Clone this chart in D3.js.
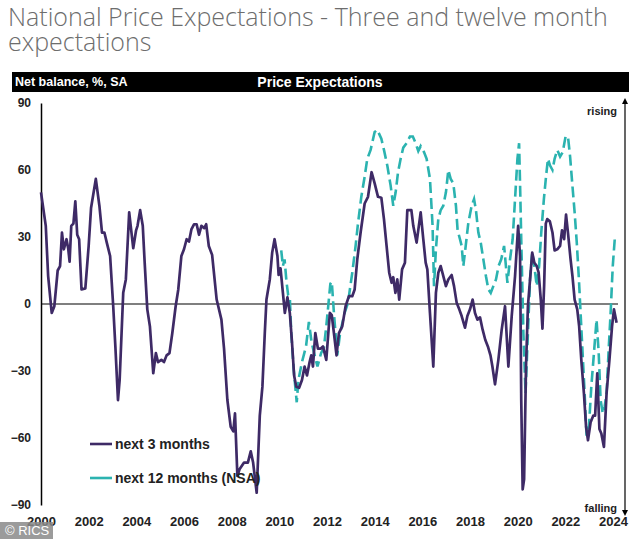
<!DOCTYPE html>
<html><head><meta charset="utf-8">
<script src="https://cdn.jsdelivr.net/npm/d3@7"></script>
<style>
html,body{margin:0;padding:0;background:#fff;}
svg{display:block;}
.narrow{font-family:"Liberation Sans Narrow","Arial Narrow","Liberation Sans",Arial,sans-serif;font-weight:bold;}
</style></head>
<body>
<svg id="chart" width="634" height="539"></svg>
<script>
// ---- data ----
const yearTicks = [2000,2002,2004,2006,2008,2010,2012,2014,2016,2018,2020,2022,2024];
const valueTicks = [90,60,30,0,-30,-60,-90];

const threeMonthT = [2000.0,2000.2,2000.3,2000.45,2000.56,2000.7,2000.8,2000.88,2000.96,2001.07,2001.14,2001.2,2001.27,2001.36,2001.44,2001.52,2001.6,2001.7,2001.86,2002.0,2002.1,2002.3,2002.45,2002.56,2002.66,2002.76,2002.9,2003.03,2003.12,2003.23,2003.3,2003.45,2003.56,2003.7,2003.87,2003.99,2004.05,2004.16,2004.27,2004.35,2004.46,2004.57,2004.71,2004.82,2004.91,2005.05,2005.16,2005.27,2005.39,2005.51,2005.65,2005.76,2005.89,2006.0,2006.11,2006.21,2006.31,2006.42,2006.53,2006.63,2006.73,2006.85,2006.93,2007.04,2007.18,2007.37,2007.57,2007.68,2007.82,2007.96,2008.07,2008.14,2008.24,2008.33,2008.52,2008.68,2008.8,2008.9,2009.05,2009.18,2009.29,2009.39,2009.46,2009.6,2009.7,2009.8,2009.92,2009.97,2010.05,2010.15,2010.23,2010.34,2010.44,2010.53,2010.62,2010.71,2010.83,2010.95,2011.06,2011.16,2011.27,2011.34,2011.41,2011.51,2011.62,2011.73,2011.83,2011.97,2012.12,2012.2,2012.29,2012.4,2012.5,2012.64,2012.78,2012.92,2013.06,2013.16,2013.27,2013.41,2013.58,2013.72,2013.87,2014.0,2014.14,2014.28,2014.39,2014.5,2014.61,2014.71,2014.78,2014.87,2014.95,2015.03,2015.15,2015.27,2015.37,2015.54,2015.62,2015.76,2015.93,2016.04,2016.14,2016.21,2016.32,2016.46,2016.57,2016.67,2016.77,2016.88,2016.99,2017.09,2017.23,2017.33,2017.44,2017.55,2017.65,2017.79,2017.89,2018.0,2018.11,2018.21,2018.31,2018.42,2018.53,2018.64,2018.75,2018.86,2018.94,2019.05,2019.19,2019.33,2019.47,2019.61,2019.75,2019.89,2020.02,2020.1,2020.15,2020.21,2020.27,2020.35,2020.43,2020.52,2020.61,2020.7,2020.8,2020.88,2020.97,2021.04,2021.11,2021.18,2021.24,2021.35,2021.46,2021.55,2021.66,2021.78,2021.86,2021.95,2022.03,2022.11,2022.22,2022.3,2022.39,2022.5,2022.58,2022.67,2022.78,2022.87,2022.95,2023.06,2023.17,2023.25,2023.34,2023.43,2023.51,2023.62,2023.73,2023.85,2023.96,2024.04,2024.15];
const threeMonthV = [50,35,12.5,-4,-1,15,17,32,24.5,29,25,19,35,36,46,31,29,6.5,7,26,43,56,44,32,32,27.5,21.5,-1,-19,-43,-34,5,11,41,25,33,35,42,35,18.5,-2.4,-10,-31,-22,-26,-25,-26,-23,-22,-13,-1,6.5,21.5,24.5,29,28,33.4,35.7,35.7,31,35,34,35.7,26,22,2,-7,-20,-43,-55,-57,-49,-77,-74,-71,-71,-66,-71,-84.5,-50,-37,-13,2,11,23,29,21.5,13,16,5,-4,3,-4,-17,-32,-37,-37.5,-34,-28,-32,-26,-23,-28,-13,-20,-20,-19,-25,-4,-5,-13,-23,-13,-10,-1,3.5,3.5,6.5,20,32,45,48,59,54,48,47.6,38,26,14,9.5,12,5,11,2,15.5,18.5,42,42,35,27.5,41,29,18.5,15.5,-4,-28,5,14,17,12.5,8,11,13,8,0.6,-2.4,-5.4,-10.6,-5.4,-2.4,2,-4,-7,-6,-11.5,-16,-19,-23,-28,-36,-25,-11.5,-1,-28,-5.4,12.5,35,21.5,-43,-83,-78.5,-28,-1,11,23,18.5,17,14,2,-11,8,36,38,37,32,24,24.5,26,33,29,40,32,20,12.4,2,-2.4,-10,-25,-40,-55,-61,-53,-50,-50,-31,-56,-58,-64,-40,-25,-10,-2.4,-8.4];

const twelveMonthT = [2010.08,2010.15,2010.22,2010.3,2010.37,2010.44,2010.5,2010.6,2010.73,2010.8,2010.95,2011.12,2011.24,2011.35,2011.46,2011.6,2011.75,2011.87,2011.97,2012.06,2012.14,2012.2,2012.29,2012.43,2012.55,2012.74,2012.88,2013.06,2013.2,2013.3,2013.44,2013.58,2013.69,2013.83,2014.0,2014.11,2014.28,2014.39,2014.53,2014.67,2014.78,2014.88,2014.98,2015.09,2015.2,2015.34,2015.48,2015.6,2015.72,2015.83,2015.93,2016.07,2016.18,2016.32,2016.43,2016.49,2016.57,2016.67,2016.77,2016.88,2016.99,2017.09,2017.19,2017.3,2017.41,2017.48,2017.58,2017.65,2017.72,2017.82,2017.93,2018.07,2018.17,2018.25,2018.35,2018.45,2018.56,2018.67,2018.77,2018.87,2018.98,2019.09,2019.2,2019.31,2019.43,2019.57,2019.68,2019.79,2019.89,2019.99,2020.06,2020.1,2020.15,2020.24,2020.33,2020.43,2020.52,2020.61,2020.7,2020.8,2020.9,2020.99,2021.1,2021.19,2021.27,2021.36,2021.46,2021.55,2021.66,2021.78,2021.89,2022.01,2022.11,2022.2,2022.29,2022.39,2022.48,2022.57,2022.64,2022.71,2022.81,2022.89,2022.99,2023.09,2023.2,2023.31,2023.4,2023.48,2023.57,2023.65,2023.73,2023.82,2023.9,2023.99,2024.08];
const twelveMonthV = [24,17,20,10,4,3,-13,-29,-44,-34,-26,-19,-8,-17,-22,-28,-22,-19.5,-10,0,9,10,-4,-23,-13,-4,0.5,14,26,36,48,57,65,69,77,78,74,69,62,53,44,50,59,65,70,72,75,75,72,68.5,70.7,68,65,56,35,8,24.5,38,42,44,50,60,56,54,44,33,29,26,17,26,36.4,44,47,42,32,27.5,20,12.4,6.6,5,8,11,17,20,26,9.5,20,29,47,65,72,54,29,-13,-40,-13,11,23,17,8,17,32,47,57,65,62,60,65,69,66,68,75,75,66,54,41,27.5,11,-4,-19,-40,-59,-55,-37,-22,-7,-22,-43,-49,-46,-40,-20,-4,17,30];

const seriesNames = ["next 3 months","next 12 months (NSA)"];
const titleLines = ["National Price Expectations - Three and twelve month","expectations"];

// ---- drawing ----
const svg = d3.select("#chart");
const purple = "#3e2a66", teal = "#2bb3b0";

svg.selectAll("text.title").data(titleLines).join("text")
  .attr("class","title")
  .attr("x",8).attr("y",(d,i)=>26+i*25)
  .attr("font-family","'Open Sans',sans-serif").attr("font-weight",300)
  .attr("font-size",25).attr("fill","#6d6d6d")
  .text(d=>d);

// header bar
svg.append("rect").attr("x",12).attr("y",72).attr("width",617).attr("height",20).attr("fill","#000");
svg.append("text").attr("class","narrow").attr("x",15).attr("y",86).attr("fill","#fff").attr("font-size",12.5).text("Net balance, %, SA");
svg.append("text").attr("class","narrow").attr("x",320).attr("y",87).attr("text-anchor","middle").attr("fill","#fff").attr("font-size",14).text("Price Expectations");

const x = d3.scaleLinear().domain([2000,2024]).range([41,613]);
const y = d3.scaleLinear().domain([-90,90]).range([505,103]);

// left axis
const yAxis = d3.axisLeft(y).tickValues(valueTicks).tickSize(0).tickPadding(10).tickFormat(d3.format("d"));
const ga = svg.append("g").attr("transform","translate(41,0)").call(yAxis);
ga.select(".domain").attr("stroke","#000").attr("stroke-width",1.5);
ga.selectAll("text").attr("class","narrow").attr("font-size",12).attr("fill","#222");

// x labels
const xAxis = d3.axisBottom(x).tickValues(yearTicks).tickSize(0).tickPadding(0).tickFormat(d3.format("d"));
const gx = svg.append("g").attr("transform","translate(0,517)").call(xAxis);
gx.select(".domain").remove();
gx.selectAll("text").attr("class","narrow").attr("font-size",13).attr("fill","#222");

// zero line
svg.append("line").attr("x1",41).attr("x2",618).attr("y1",y(0)).attr("y2",y(0)).attr("stroke","#000").attr("stroke-width",1.2);

// right arrow axis
svg.append("defs").append("marker").attr("id","arr").attr("viewBox","0 0 10 10").attr("refX",5).attr("refY",5)
  .attr("markerWidth",5).attr("markerHeight",6).attr("orient","auto-start-reverse")
  .append("path").attr("d","M0,0L10,5L0,10Z").attr("fill","#000");
svg.append("line").attr("x1",625).attr("x2",625).attr("y1",101).attr("y2",513)
  .attr("stroke","#000").attr("stroke-width",1.2).attr("marker-start","url(#arr)").attr("marker-end","url(#arr)");
svg.append("text").attr("class","narrow").attr("x",617).attr("y",115).attr("text-anchor","end").attr("font-size",11).attr("fill","#222").text("rising");
svg.append("text").attr("class","narrow").attr("x",617).attr("y",512).attr("text-anchor","end").attr("font-size",11).attr("fill","#222").text("falling");

// lines
const line = d3.line().x(d=>x(d[0])).y(d=>y(d[1]));
const s12 = twelveMonthT.map((t,i)=>[t,twelveMonthV[i]]);
const s3 = threeMonthT.map((t,i)=>[t,threeMonthV[i]]);
svg.append("path").datum(s12).attr("d",line).attr("fill","none").attr("stroke",teal)
  .attr("stroke-width",2.6).attr("stroke-dasharray","11,5");
svg.append("path").datum(s3).attr("d",line).attr("fill","none").attr("stroke",purple)
  .attr("stroke-width",2.7).attr("stroke-linejoin","round");

// legend
const leg = svg.append("g");
[[purple,null,444],[teal,"11,5",478]].forEach((c,i)=>{
  leg.append("line").attr("x1",90).attr("x2",112).attr("y1",c[2]).attr("y2",c[2])
    .attr("stroke",c[0]).attr("stroke-width",2.6);
  leg.append("text").attr("class","narrow").attr("x",115).attr("y",c[2]+5).attr("font-size",14).attr("fill","#222").text(seriesNames[i]);
});

// credit
svg.append("rect").attr("x",0).attr("y",522).attr("width",53).attr("height",17).attr("fill","#8a8a8a").attr("opacity",0.85);
svg.append("text").attr("x",5).attr("y",535).attr("font-family","Arial,'Liberation Sans',sans-serif").attr("font-size",13).attr("fill","#fff").text("© RICS");
</script>
</body></html>
